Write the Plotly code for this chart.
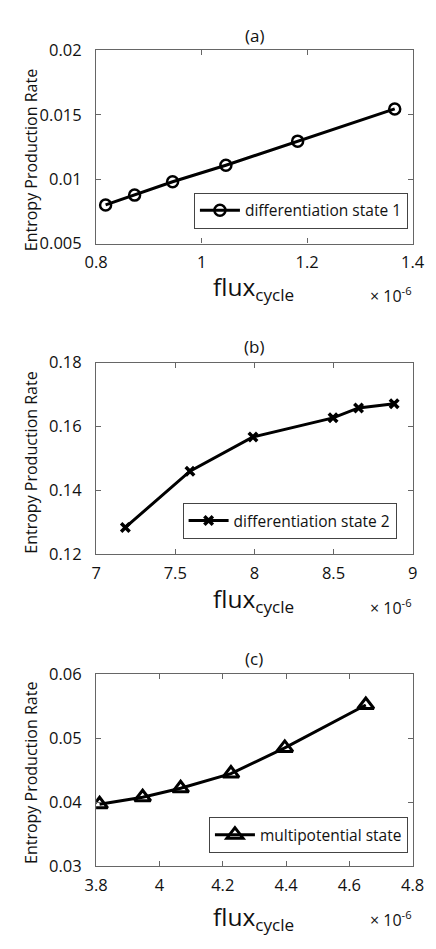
import plotly.graph_objects as go

# ---- data (flux in units of 1e-6) ----
flux_a = [0.818, 0.873, 0.945, 1.046, 1.182, 1.366]
epr_a = [0.0080, 0.00876, 0.0098, 0.01108, 0.01295, 0.01545]

flux_b = [7.185, 7.593, 7.991, 8.497, 8.658, 8.883]
epr_b = [0.1284, 0.1460, 0.1567, 0.1627, 0.1658, 0.1671]

flux_c = [3.811, 3.947, 4.067, 4.226, 4.396, 4.652]
epr_c = [0.0397, 0.0408, 0.0422, 0.0445, 0.0485, 0.0552]

names = ["differentiation state 1", "differentiation state 2", "multipotential state"]
panel_titles = ["(a)", "(b)", "(c)"]

xt_a = [0.8, 1.0, 1.2, 1.4]; xtl_a = ["0.8", "1", "1.2", "1.4"]
yt_a = [0.005, 0.01, 0.015, 0.02]; ytl_a = ["0.005", "0.01", "0.015", "0.02"]
xt_b = [7, 7.5, 8, 8.5, 9]; xtl_b = ["7", "7.5", "8", "8.5", "9"]
yt_b = [0.12, 0.14, 0.16, 0.18]; ytl_b = ["0.12", "0.14", "0.16", "0.18"]
xt_c = [3.8, 4.0, 4.2, 4.4, 4.6, 4.8]; xtl_c = ["3.8", "4", "4.2", "4.4", "4.6", "4.8"]
yt_c = [0.03, 0.04, 0.05, 0.06]; ytl_c = ["0.03", "0.04", "0.05", "0.06"]

W, H = 436, 949
FONT = "Open Sans"
TXT = "#111111"
AXC = "#666666"


def px(x):
    return x / W


def py(y):
    return 1 - y / H


fig = go.Figure()

panels = [
    dict(x=flux_a, y=epr_a, xt=xt_a, xtl=xtl_a, yt=yt_a, ytl=ytl_a, xr=[0.8, 1.4], yr=[0.005, 0.02],
         top=39.3, bot=237.3, sym="circle-open", msize=11, mlw=2.5,
         leg=dict(x=419, y=222), ytitle_c=152, title_y=24, flux_base=289, mult_y=290),
    dict(x=flux_b, y=epr_b, xt=xt_b, xtl=xtl_b, yt=yt_b, ytl=ytl_b, xr=[7, 9], yr=[0.12, 0.18],
         top=359.3, bot=555.7, sym="x-thin-open", msize=8.5, mlw=3.5,
         leg=dict(x=407, y=540), ytitle_c=462, title_y=343, flux_base=609, mult_y=610),
    dict(x=flux_c, y=epr_c, xt=xt_c, xtl=xtl_c, yt=yt_c, ytl=ytl_c, xr=[3.8, 4.8], yr=[0.03, 0.06],
         top=678.7, bot=875.7, sym="triangle-up-open", msize=14, mlw=3,
         leg=dict(x=419, y=862), ytitle_c=780, title_y=663, flux_base=935, mult_y=930),
]

L, R = 89, 424
annotations = []
layout_extra = {}
for i, p in enumerate(panels):
    k = "" if i == 0 else str(i + 1)
    legname = "legend" + k
    fig.add_trace(go.Scatter(
        x=p["x"], y=p["y"], mode="lines+markers", name=names[i],
        xaxis="x" + k, yaxis="y" + k, legend=legname,
        line=dict(color="black", width=3),
        marker=dict(symbol=p["sym"], size=p["msize"], color="black",
                    line=dict(width=p["mlw"], color="black")),
    ))
    axcommon = dict(showline=True, linecolor=AXC, linewidth=1.2, mirror="ticks",
                    ticks="inside", ticklen=5, tickcolor=AXC, tickwidth=1, showgrid=False, zeroline=False,
                    tickfont=dict(family=FONT, size=16.5, color=TXT))
    layout_extra["xaxis" + k] = dict(axcommon, domain=[px(L), px(R)], range=p["xr"],
                                     tickvals=p["xt"], ticktext=p["xtl"], ticklabelstandoff=4,
                                     anchor="y" + k)
    layout_extra["yaxis" + k] = dict(axcommon, domain=[py(p["bot"]), py(p["top"])], range=p["yr"],
                                     tickvals=p["yt"], ticktext=p["ytl"], ticklabelstandoff=10,
                                     anchor="x" + k)
    layout_extra[legname] = dict(x=px(p["leg"]["x"]), y=py(p["leg"]["y"]), xanchor="right", yanchor="bottom",
                                 bgcolor="white", bordercolor="#444444", borderwidth=1, itemwidth=40,
                                 font=dict(family=FONT, size=15.5, color=TXT))
    # panel title
    annotations.append(dict(text=panel_titles[i], x=px((L + R) / 2), y=py(p["title_y"]),
                            xref="paper", yref="paper", showarrow=False, xanchor="center", yanchor="middle",
                            font=dict(family=FONT, size=17, color=TXT)))
    # y title
    annotations.append(dict(text="Entropy Production Rate", x=px(20), y=py(p["ytitle_c"]), textangle=-90,
                            xref="paper", yref="paper", showarrow=False, xanchor="center", yanchor="middle",
                            font=dict(family=FONT, size=16, color=TXT)))
    # x title
    annotations.append(dict(text="flux<sub>cycle</sub>", x=px(256), y=py(p["flux_base"] - 27),
                            xref="paper", yref="paper", showarrow=False, xanchor="center", yanchor="top",
                            font=dict(family=FONT, size=24.5, color=TXT)))
    # multiplier
    annotations.append(dict(text="\u00d7 10<sup>-6</sup>", x=px(425), y=py(p["mult_y"]),
                            xref="paper", yref="paper", showarrow=False, xanchor="right", yanchor="middle",
                            font=dict(family=FONT, size=16, color=TXT)))

fig.update_layout(
    width=W, height=H, margin=dict(l=0, r=0, t=0, b=0),
    paper_bgcolor="white", plot_bgcolor="white",
    showlegend=True, annotations=annotations, **layout_extra,
)

fig.write_html("out.html")
